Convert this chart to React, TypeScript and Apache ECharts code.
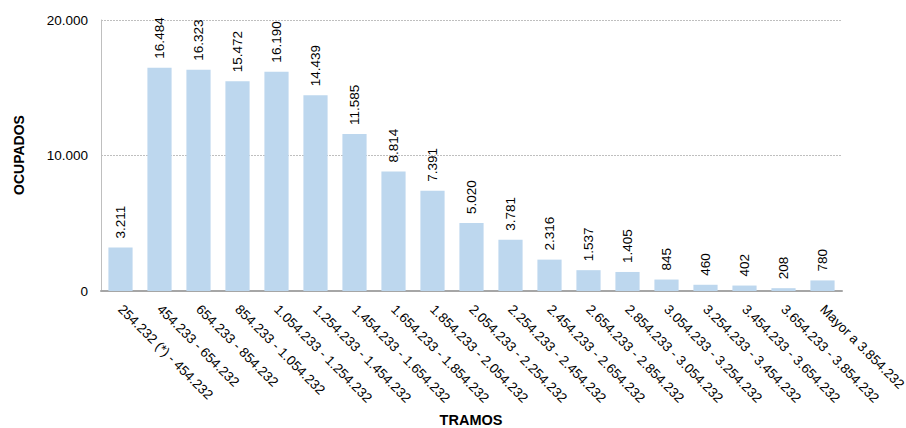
import React, { useEffect, useRef } from "react";
import * as echarts from "echarts";

const categories = [
  "254.232 (*) - 454.232",
  "454.233 - 654.232",
  "654.233 - 854.232",
  "854.233 - 1.054.232",
  "1.054.233 - 1.254.232",
  "1.254.233 - 1.454.232",
  "1.454.233 - 1.654.232",
  "1.654.233 - 1.854.232",
  "1.854.233 - 2.054.232",
  "2.054.233 - 2.254.232",
  "2.254.233 - 2.454.232",
  "2.454.233 - 2.654.232",
  "2.654.233 - 2.854.232",
  "2.854.233 - 3.054.232",
  "3.054.233 - 3.254.232",
  "3.254.233 - 3.454.232",
  "3.454.233 - 3.654.232",
  "3.654.233 - 3.854.232",
  "Mayor a 3.854.232",
];

const ocupados = [
  3211, 16484, 16323, 15472, 16190, 14439, 11585, 8814, 7391, 5020, 3781,
  2316, 1537, 1405, 845, 460, 402, 208, 780,
];

const yTicks = [0, 10000, 20000];

const fmt = (v: number) =>
  String(Math.round(v)).replace(/\B(?=(\d{3})+(?!\d))/g, ".");

export default function App() {
  const ref = useRef<HTMLDivElement>(null);
  useEffect(() => {
    if (!ref.current) return;
    const chart = echarts.init(ref.current, null, { renderer: "svg" });
    const font = "'Liberation Sans', Arial, sans-serif";
    chart.setOption({
      animation: false,
      textStyle: { fontFamily: font },
      grid: { left: 101, top: 20, right: 64, bottom: 137, containLabel: false, outerBoundsMode: "none" },
      graphic: [
        {
          type: "text",
          x: 19,
          y: 155,
          rotation: Math.PI / 2,
          style: {
            text: "OCUPADOS",
            fill: "#000",
            fontSize: 14,
            fontWeight: "bold",
            fontFamily: font,
            align: "center",
            verticalAlign: "middle",
          },
        },
        {
          type: "text",
          x: 471,
          y: 420,
          style: {
            text: "TRAMOS",
            fill: "#000",
            fontSize: 14.5,
            fontWeight: "bold",
            fontFamily: font,
            align: "center",
            verticalAlign: "middle",
          },
        },
      ],
      xAxis: {
        type: "category",
        data: categories,
        axisLine: { lineStyle: { color: "#a6a6a6", width: 2 } },
        axisTick: { show: false },
        axisLabel: { rotate: -45, interval: 0, margin: 16, fontSize: 13.5, color: "#000", fontFamily: font },
      },
      yAxis: {
        type: "value",
        min: yTicks[0],
        max: yTicks[yTicks.length - 1],
        interval: yTicks[1] - yTicks[0],
        axisLine: { show: true, lineStyle: { color: "#bfbfbf", width: 1 } },
        axisTick: { show: false },
        axisLabel: { formatter: (v: number) => fmt(v), fontSize: 13.5, color: "#000", margin: 13, fontFamily: font },
        splitLine: { lineStyle: { color: "#bfbfbf", type: [2, 1], width: 1 } },
      },
      series: [
        {
          type: "bar",
          data: ocupados,
          barWidth: "62%",
          itemStyle: { color: "#bdd7ee" },
          label: {
            show: true,
            position: "top",
            rotate: 90,
            align: "left",
            verticalAlign: "middle",
            distance: 9,
            fontSize: 13.5,
            color: "#000",
            formatter: (p: any) => fmt(p.value),
          },
        },
      ],
    });
    return () => chart.dispose();
  }, []);
  return <div ref={ref} style={{ width: 906, height: 428, position: "absolute", left: 0, top: 0 }} />;
}
